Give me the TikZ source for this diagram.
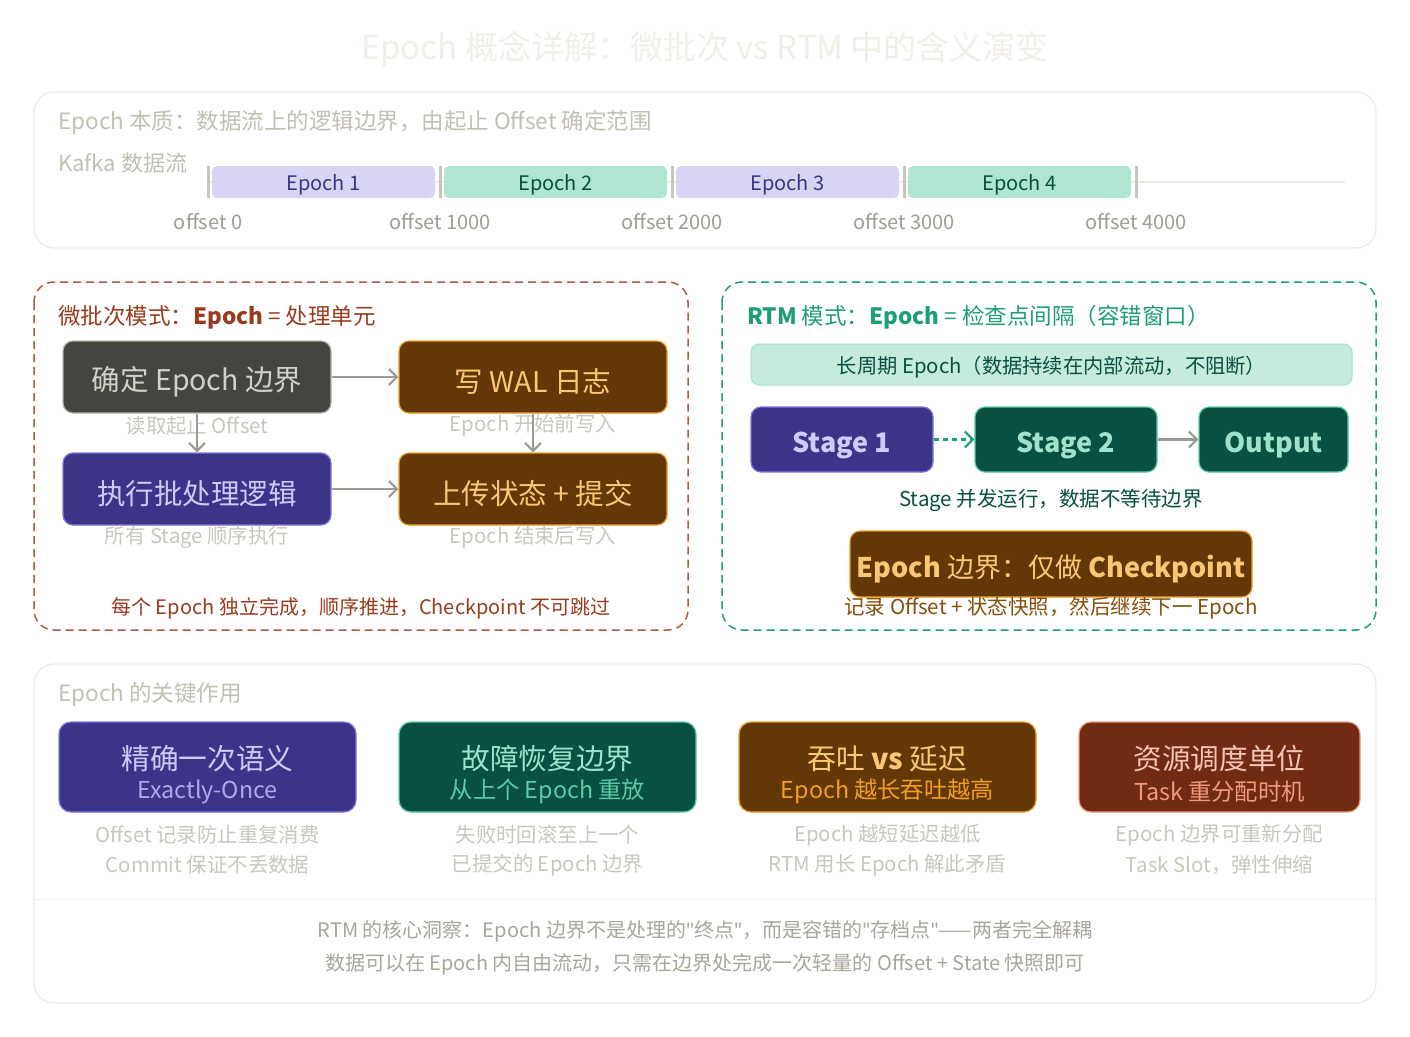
\documentclass[tikz,border=0pt]{standalone}
\usepackage{fontspec}
\setmainfont{Noto Sans CJK SC}
\newfontfamily\latinf{Noto Sans}
\usetikzlibrary{arrows.meta}
\newcommand\fsz[2]{\fontsize{#1}{#2}\selectfont}
\newcommand\rz[2]{\raisebox{-#1pt}[\height][\depth]{#2}}
\newcommand\qt{{\latinf"}}
\definecolor{titlec}{HTML}{F1EFE8}
\definecolor{panelb}{HTML}{ECEAE4}
\definecolor{headc}{HTML}{C2BFB4}
\definecolor{tickc}{HTML}{C8C5BA}
\definecolor{offc}{HTML}{A09D94}
\definecolor{lav}{HTML}{D8D4F4}
\definecolor{lavt}{HTML}{3C3489}
\definecolor{mint}{HTML}{AEE6D2}
\definecolor{mintt}{HTML}{085041}
\definecolor{rust}{HTML}{B5583F}
\definecolor{rustt}{HTML}{993C1D}
\definecolor{grn}{HTML}{1D9E75}
\definecolor{grayf}{HTML}{444441}
\definecolor{grayb}{HTML}{B4B2A9}
\definecolor{grayt}{HTML}{D3D1C7}
\definecolor{brownf}{HTML}{633806}
\definecolor{brownb}{HTML}{EF9F27}
\definecolor{brownt}{HTML}{FAC775}
\definecolor{purf}{HTML}{3C3489}
\definecolor{purb}{HTML}{7F77DD}
\definecolor{purt}{HTML}{CECBF6}
\definecolor{purs}{HTML}{AFA9EC}
\definecolor{grnf}{HTML}{085041}
\definecolor{grnb}{HTML}{5DCAA5}
\definecolor{grnt}{HTML}{9FE1CB}
\definecolor{redf}{HTML}{712B13}
\definecolor{redb}{HTML}{F0997B}
\definecolor{redt}{HTML}{F5C4B3}
\definecolor{subc}{HTML}{C9C7BD}
\definecolor{arrc}{HTML}{9C9A92}
\definecolor{bannerf}{HTML}{C5EBDD}
\definecolor{bannerb}{HTML}{A6DFCA}
\definecolor{insc}{HTML}{A8A59B}
\definecolor{cpt}{HTML}{854F0B}
\begin{document}
\begin{tikzpicture}[x=1pt,y=-1pt,
  panel/.style={draw=panelb,line width=1.2pt,rounded corners=20pt,fill=white},
  dpanel/.style={line width=1.5pt,rounded corners=20pt,dash pattern=on 8pt off 5pt},
  epochbar/.style={rounded corners=5pt,minimum width=223pt,minimum height=32pt,inner sep=0pt,font=\fsz{20}{24}},
  flowbox/.style={rounded corners=10pt,line width=1.2pt,minimum width=268pt,minimum height=72pt,inner sep=0pt,font=\fsz{28.5}{34}},
  stagebox/.style={rounded corners=10pt,line width=1.2pt,minimum height=65pt,inner sep=0pt,font=\fsz{27}{32}\bfseries},
  card/.style={rounded corners=12pt,line width=1.2pt,minimum width=297pt,minimum height=90pt,inner sep=0pt},
  sublbl/.style={text=subc,font=\fsz{20.4}{24},inner sep=0pt},
  garrow/.style={draw=arrc,line width=2.2pt,-{Straight Barb[length=8pt,width=16pt,line width=2.2pt]}},
  txt/.style={inner sep=0pt}
]
\useasboundingbox[fill=white] (0,0) rectangle (1410,1036);

% title
\node[txt,text=titlec,font=\fsz{33}{38}] (title) at (705,49) {Epoch 概念详解：微批次 vs RTM 中的含义演变};

% top panel
\draw[panel] (34,92) rectangle (1376,248);
\node[txt,anchor=west,text=headc,font=\fsz{22.5}{26}] (h1) at (58,123) {Epoch 本质：数据流上的逻辑边界，由起止 Offset 确定范围};
\node[txt,anchor=west,text=headc,font=\fsz{22}{26}] (kafka) at (58,163) {Kafka 数据流};
\draw[draw=panelb,line width=2pt] (208,182) -- (1345,182);
\node[epochbar,fill=lav,text=lavt] (e1) at (323.5,182) {\rz{2.5}{Epoch 1}};
\node[epochbar,fill=mint,text=mintt] (e2) at (555.5,182) {\rz{2.5}{Epoch 2}};
\node[epochbar,fill=lav,text=lavt] (e3) at (787.5,182) {\rz{2.5}{Epoch 3}};
\node[epochbar,fill=mint,text=mintt] (e4) at (1019.5,182) {\rz{2.5}{Epoch 4}};
\foreach \x in {208,440,672,904,1136}{\draw[tickc,line width=3pt] (\x,166) -- (\x,198);}
\node[txt,text=offc,font=\fsz{20}{24}] (o0) at (208,221.5) {offset 0};
\node[txt,text=offc,font=\fsz{20}{24}] (o1) at (440,221.5) {offset 1000};
\node[txt,text=offc,font=\fsz{20}{24}] (o2) at (672,221.5) {offset 2000};
\node[txt,text=offc,font=\fsz{20}{24}] (o3) at (904,221.5) {offset 3000};
\node[txt,text=offc,font=\fsz{20}{24}] (o4) at (1136,221.5) {offset 4000};

% left panel
\draw[dpanel,draw=rust] (34,282) rectangle (688,630);
\node[txt,anchor=west,text=rustt,font=\fsz{22.5}{26}] (lt) at (58,317) {微批次模式：\textbf{Epoch} = 处理单元};
\node[flowbox,fill=grayf,draw=grayb,text=grayt] (b1) at (197,377) {\rz{4.5}{确定 Epoch 边界}};
\node[flowbox,fill=brownf,draw=brownb,text=brownt] (b2) at (533,377) {\rz{4.5}{写 WAL 日志}};
\node[flowbox,fill=purf,draw=purb,text=purt] (b3) at (197,489) {\rz{4.5}{执行批处理逻辑}};
\node[flowbox,fill=brownf,draw=brownb,text=brownt] (b4) at (533,489) {\rz{4.5}{上传状态 + 提交}};
\node[sublbl] (l1) at (197,425.5) {读取起止 Offset};
\node[sublbl] (l2) at (533,425.5) {Epoch 开始前写入};
\node[sublbl] (l3) at (197,537.5) {所有 Stage 顺序执行};
\node[sublbl] (l4) at (533,537.5) {Epoch 结束后写入};
\draw[garrow] (b1) -- (b2);
\draw[garrow] (b3) -- (b4);
\draw[garrow] (b1) -- (b3);
\draw[garrow] (b2) -- (b4);
\node[txt,text=rustt,font=\fsz{20}{24}] (lb) at (361,608.5) {每个 Epoch 独立完成，顺序推进，Checkpoint 不可跳过};

% right panel
\draw[dpanel,draw=grn] (722,282) rectangle (1376,630);
\node[txt,anchor=west,text=grn,font=\fsz{22.5}{26}] (rt) at (747,317) {\textbf{RTM} 模式：\textbf{Epoch} = 检查点间隔（容错窗口）};
\node[rounded corners=8pt,fill=bannerf,draw=bannerb,line width=1pt,minimum width=601pt,minimum height=41pt,inner sep=0pt,text=mintt,font=\fsz{20.3}{24}] (banner) at (1051.5,364.5) {\rz{2.5}{长周期 Epoch（数据持续在内部流动，不阻断）}};
\node[stagebox,minimum width=182pt,fill=purf,draw=purb,text=purt] (s1) at (842,439.5) {\rz{5.5}{Stage 1}};
\node[stagebox,minimum width=182pt,fill=grnf,draw=grnb,text=grnt] (s2) at (1066,439.5) {\rz{5.5}{Stage 2}};
\node[stagebox,minimum width=149pt,fill=grnf,draw=grnb,text=grnt] (out) at (1273.5,439.5) {\rz{5.5}{Output}};
\draw[draw=grn,line width=2.2pt,dash pattern=on 5pt off 4pt,-{Straight Barb[length=8pt,width=16pt,line width=2.2pt]}] (s1) -- (s2);
\draw[garrow] (s2) -- (out);
\node[txt,text=mintt,font=\fsz{20.5}{24}] (st) at (1051,500) {Stage 并发运行，数据不等待边界};
\node[rounded corners=10pt,line width=1.2pt,minimum width=402pt,minimum height=66pt,inner sep=0pt,fill=brownf,draw=brownb,text=brownt,font=\fsz{27}{32}] (cp) at (1051,564) {\rz{5}{\textbf{Epoch} 边界：仅做 \textbf{Checkpoint}}};
\node[txt,text=cpt,font=\fsz{20.5}{24}] (cpl) at (1051,608.5) {记录 Offset + 状态快照，然后继续下一 Epoch};

% bottom panel
\draw[panel] (34,664) rectangle (1376,1003);
\draw[draw=panelb!70,line width=1pt] (35,899) -- (1375,899);
\node[txt,anchor=west,text=headc,font=\fsz{22.5}{26}] (bh) at (58,695) {Epoch 的关键作用};

\node[card,fill=purf,draw=purb] (c1) at (207.5,767) {};
\node[card,fill=grnf,draw=grnb] (c2) at (547.5,767) {};
\node[card,fill=brownf,draw=brownb] (c3) at (887.5,767) {};
\node[card,minimum width=281pt,fill=redf,draw=redb] (c4) at (1219.5,767) {};

\node[txt,text=purt,font=\fsz{28.7}{34}] (c1a) at (207.5,758.5) {精确一次语义};
\node[txt,text=purs,font=\fsz{23.3}{27}] (c1b) at (207.5,791.5) {Exactly-Once};
\node[txt,text=grnt,font=\fsz{28.7}{34}] (c2a) at (547.5,758.5) {故障恢复边界};
\node[txt,text=grnb,font=\fsz{23.3}{27}] (c2b) at (547.5,791.5) {从上个 Epoch 重放};
\node[txt,text=brownt,font=\fsz{28.7}{34}] (c3a) at (887.5,758.5) {吞吐 \textbf{vs} 延迟};
\node[txt,text=brownb,font=\fsz{23.3}{27}] (c3b) at (887.5,791.5) {Epoch 越长吞吐越高};
\node[txt,text=redt,font=\fsz{28.7}{34}] (c4a) at (1219.5,758.5) {资源调度单位};
\node[txt,text=redb,font=\fsz{23.3}{27}] (c4b) at (1219.5,791.5) {Task 重分配时机};

\node[sublbl] (d1a) at (207.5,835) {Offset 记录防止重复消费};
\node[sublbl] (d1b) at (207.5,865) {Commit 保证不丢数据};
\node[sublbl] (d2a) at (547.5,835) {失败时回滚至上一个};
\node[sublbl] (d2b) at (547.5,865) {已提交的 Epoch 边界};
\node[sublbl] (d3a) at (887.5,835) {Epoch 越短延迟越低};
\node[sublbl] (d3b) at (887.5,865) {RTM 用长 Epoch 解此矛盾};
\node[sublbl] (d4a) at (1219.5,835) {Epoch 边界可重新分配};
\node[sublbl] (d4b) at (1219.5,865) {Task Slot，弹性伸缩};

\node[txt,text=insc,font=\fsz{20}{24}] (i1) at (705,931.5) {RTM 的核心洞察：Epoch 边界不是处理的\qt 终点\qt，而是容错的\qt 存档点\qt——两者完全解耦};
\node[txt,text=insc,font=\fsz{20}{24}] (i2) at (705,964.5) {数据可以在 Epoch 内自由流动，只需在边界处完成一次轻量的 Offset + State 快照即可};
\end{tikzpicture}
\end{document}
